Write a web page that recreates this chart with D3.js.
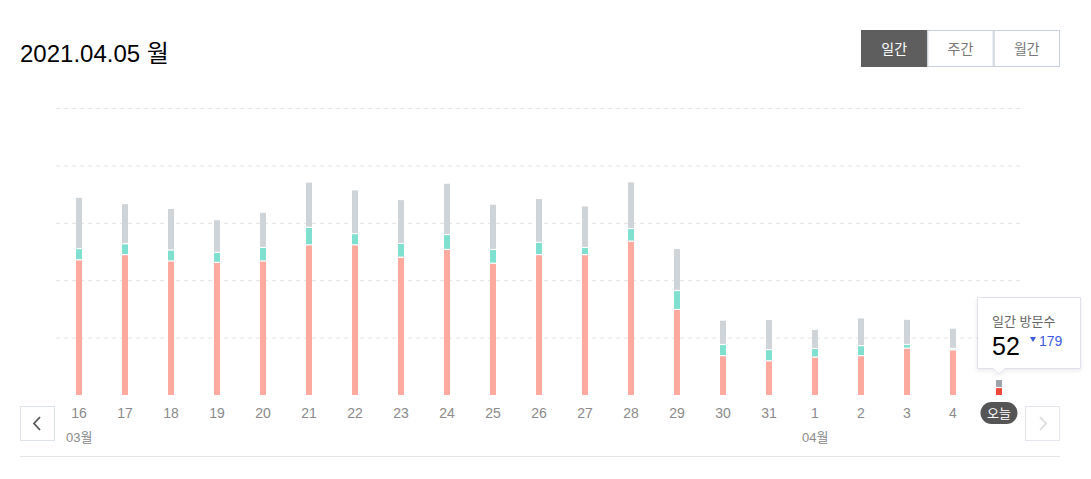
<!DOCTYPE html>
<html>
<head>
<meta charset="utf-8">
<script src="https://cdn.jsdelivr.net/npm/d3@7"></script>
<style>
  body { margin: 0; background: #fff; }
  text { font-family: "Liberation Sans", "Noto Sans CJK KR", sans-serif; }
</style>
</head>
<body>
<svg id="chart"></svg>
<script>
var width = 1091, height = 479;

// data
var days = ["16", "17", "18", "19", "20", "21", "22", "23", "24", "25", "26", "27", "28", "29", "30", "31", "1", "2", "3", "4", "5"];
var redVals = [469, 487, 465, 460, 465, 521, 521, 478, 505, 457, 487, 487, 534, 296, 135, 117, 130, 135, 161, 155, 24];
var tealVals = [39, 38, 38, 35, 47, 61, 39, 48, 52, 48, 43, 25, 44, 66, 39, 39, 30, 35, 13, 5, 0];
var grayVals = [179, 140, 145, 114, 123, 158, 153, 153, 179, 158, 153, 145, 163, 147, 85, 105, 67, 97, 88, 71, 28];
var gridTicks = [200, 400, 600, 800, 1000];
var monthLabels = [{ day: "16", label: "03월" }, { day: "1", label: "04월" }];
var periods = ["일간", "주간", "월간"];
var todayTotal = 52, todayDiff = 179;

var svg = d3.select("#chart")
  .attr("width", width)
  .attr("height", height);

// title
svg.append("text")
  .attr("x", 20)
  .attr("y", 62)
  .style("font-size", "24px")
  .attr("fill", "#000")
  .text("2021.04.05 월");

// period buttons
var btnX = d3.scaleBand().domain(periods).range([861, 1060]);
var btns = svg.selectAll(".btn")
  .data(periods)
  .enter()
  .append("g")
  .attr("class", "btn");
btns.append("rect")
  .attr("x", d => btnX(d) + 0.5)
  .attr("y", 30.5)
  .attr("width", btnX.bandwidth() - 1)
  .attr("height", 36)
  .attr("fill", (d, i) => i == 0 ? "#5e5e5e" : "#fff")
  .attr("stroke", (d, i) => i == 0 ? "#5e5e5e" : "#c7cfda");
btns.append("text")
  .attr("x", d => btnX(d) + btnX.bandwidth() / 2)
  .attr("y", 54)
  .attr("text-anchor", "middle")
  .style("font-size", "14px")
  .attr("fill", (d, i) => i == 0 ? "#fff" : "#777")
  .text(d => d);

// scales
var x = d3.scalePoint()
  .domain(days)
  .range([79, 999]);

var y = d3.scaleLinear()
  .domain([0, 1000])
  .range([395, 108]);

// grid
svg.append("g")
  .attr("transform", "translate(56,0)")
  .call(d3.axisLeft(y).tickValues(gridTicks).tickSize(-964).tickFormat(""))
  .call(g => g.select(".domain").remove())
  .call(g => g.selectAll("line")
    .attr("stroke", "#e2e2e2")
    .attr("stroke-dasharray", "4,4"));

// stacked bars
var stackData = days.map((d, i) => ({ day: d, red: redVals[i], teal: tealVals[i], gray: grayVals[i] }));
var series = d3.stack().keys(["red", "teal", "gray"])(stackData);
var colors = { red: "#ffa99f", teal: "#7fe0cf", gray: "#cfd4d8" };
var todayColors = { red: "#f0493b", teal: "#2fcdb4", gray: "#9ea3a9" };
var barW = 6;

svg.selectAll(".layer")
  .data(series)
  .enter()
  .append("g")
  .attr("class", "layer")
  .selectAll("rect")
  .data(s => s.map(p => ({ key: s.key, p: p })))
  .enter()
  .append("rect")
  .filter(d => d.p[1] - d.p[0] > 0)
  .attr("x", d => x(d.p.data.day) - barW / 2)
  .attr("width", barW)
  .attr("y", d => y(d.p[1]))
  .attr("height", d => Math.max(0, y(d.p[0]) - y(d.p[1]) - (d.key == "red" ? 0 : 1.2)))
  .attr("fill", d => d.p.data.day == "5" ? todayColors[d.key] : colors[d.key]);

// x labels
svg.selectAll(".xlab")
  .data(days.filter(d => d != "5"))
  .enter()
  .append("text")
  .attr("class", "xlab")
  .attr("x", d => x(d))
  .attr("y", 418)
  .attr("text-anchor", "middle")
  .style("font-size", "14px")
  .attr("fill", "#8a8a8a")
  .text(d => d);

svg.selectAll(".mlab")
  .data(monthLabels)
  .enter()
  .append("text")
  .attr("x", d => x(d.day) - 13)
  .attr("y", 442)
  .style("font-size", "13px")
  .attr("fill", "#8a8a8a")
  .text(d => d.label);

// today pill
svg.append("rect")
  .attr("x", x("5") - 18.5)
  .attr("y", 402)
  .attr("width", 37)
  .attr("height", 22)
  .attr("rx", 11)
  .attr("fill", "#555");
svg.append("text")
  .attr("x", x("5"))
  .attr("y", 418)
  .attr("text-anchor", "middle")
  .style("font-size", "13px")
  .attr("fill", "#fff")
  .text("오늘");

// nav buttons
svg.append("rect")
  .attr("x", 20.5).attr("y", 406.5)
  .attr("width", 34).attr("height", 34)
  .attr("fill", "#fff").attr("stroke", "#dde2e9");
svg.append("path")
  .attr("d", "M40,417 L34,423.5 L40,430")
  .attr("fill", "none").attr("stroke", "#555").attr("stroke-width", 1.8);
svg.append("rect")
  .attr("x", 1025.5).attr("y", 406.5)
  .attr("width", 34).attr("height", 34)
  .attr("fill", "#fff").attr("stroke", "#e3e6ec");
svg.append("path")
  .attr("d", "M1040,417 L1046,423.5 L1040,430")
  .attr("fill", "none").attr("stroke", "#dcdcdc").attr("stroke-width", 1.8);

// bottom line
svg.append("line")
  .attr("x1", 20).attr("x2", 1060)
  .attr("y1", 456.5).attr("y2", 456.5)
  .attr("stroke", "#e4e4e4");

// tooltip
var defs = svg.append("defs");
var f = defs.append("filter").attr("id", "shadow").attr("x", "-20%").attr("y", "-20%").attr("width", "140%").attr("height", "150%");
f.append("feDropShadow").attr("dx", 0).attr("dy", 2).attr("stdDeviation", 2).attr("flood-color", "#000").attr("flood-opacity", 0.08);

var tip = svg.append("g").attr("filter", "url(#shadow)");
tip.append("path")
  .attr("d", "M977.5,297.5 H1080.5 V368.5 H" + (x("5") + 6) + " L" + x("5") + ",374 L" + (x("5") - 6) + ",368.5 H977.5 Z")
  .attr("fill", "#fff")
  .attr("stroke", "#dfe2ea");

svg.append("text")
  .attr("x", 992).attr("y", 326)
  .style("font-size", "13px")
  .attr("fill", "#666")
  .text("일간 방문수");
svg.append("text")
  .attr("x", 992).attr("y", 355)
  .style("font-size", "25px")
  .attr("fill", "#000")
  .text(todayTotal);
svg.append("path")
  .attr("d", "M1030,337 L1036,337 L1033,342 Z")
  .attr("fill", "#3d5be0");
svg.append("text")
  .attr("x", 1039).attr("y", 346)
  .style("font-size", "14px")
  .attr("fill", "#3d5be0")
  .text(todayDiff);
</script>
</body>
</html>
